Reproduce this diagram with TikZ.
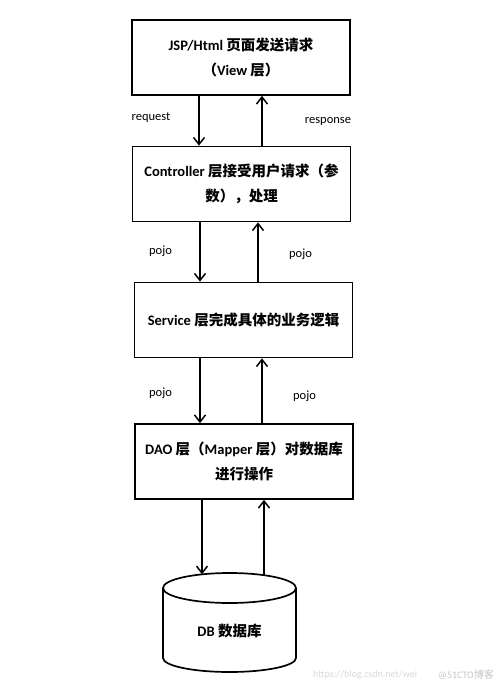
\documentclass[tikz,border=0pt]{standalone}
\usepackage{fontspec}
\setmainfont{Carlito}
\newfontfamily\cjk{Noto Sans CJK SC}
\newcommand\zhs[1]{{\cjk #1}}
\usetikzlibrary{arrows.meta}
\begin{document}
\begin{tikzpicture}[x=1pt,y=-1pt,
  layerbox/.style={draw, line width=1.7pt, minimum width=218pt, minimum height=75pt,
    inner sep=0pt, align=center, font=\fontsize{14.5}{25}\selectfont\bfseries},
  flow/.style={line width=1.5pt, -{Straight Barb[length=7pt,width=11pt]}},
  lbl/.style={font=\fontsize{12.5}{14}\selectfont, inner sep=0pt},
  wm/.style={font=\fontsize{10}{12}\selectfont, inner sep=0pt, text=gray!30}]
\useasboundingbox (0,0) rectangle (500,686);
\fill[white] (0,0) rectangle (500,686);

\node[layerbox] (b1) at (241,57.5) {JSP/Html \zhs{页面发送请求}\\\zhs{（}View \zhs{层）}};
\node[layerbox] (b2) at (241.5,184) {Controller \zhs{层接受用户请求（参}\\\zhs{数），处理}};
\node[layerbox] (b3) at (243.5,320) {Service \zhs{层完成具体的业务逻辑}};
\node[layerbox] (b4) at (244,461.5) {DAO \zhs{层（}Mapper \zhs{层）对数据库}\\\zhs{进行操作}};

% database cylinder
\draw[line width=1.7pt] (163,588) -- (163,658)
  arc[start angle=180, end angle=360, x radius=66.5pt, y radius=14pt] -- (296,588);
\draw[line width=1.7pt] (229.5,588) ellipse[x radius=66.5pt, y radius=15pt];
\node[font=\fontsize{14.5}{16}\selectfont\bfseries] (db) at (229.5,631) {DB \zhs{数据库}};
\coordinate (dbin) at (202,574.3);
\coordinate (dbout) at (264,575.2);

% x positions of connectors
\coordinate (xa) at (199,0);
\coordinate (xb) at (262,0);
\coordinate (xc) at (200,0);
\coordinate (xd) at (258,0);
\coordinate (xe) at (200,0);
\coordinate (xf) at (262,0);
\coordinate (xg) at (202,0);
\coordinate (xh) at (264,0);

\draw[flow] (b1.south -| xa) -- (b2.north -| xa);
\draw[flow] (b2.north -| xb) -- (b1.south -| xb);
\draw[flow] (b2.south -| xc) -- (b3.north -| xc);
\draw[flow] (b3.north -| xd) -- (b2.south -| xd);
\draw[flow] (b3.south -| xe) -- (b4.north -| xe);
\draw[flow] (b4.north -| xf) -- (b3.south -| xf);
\draw[flow] (b4.south -| xg) -- (dbin);
\draw[flow] (dbout) -- (b4.south -| xh);

\node[lbl] (l1) at (151,118) {request};
\node[lbl] (l2) at (328,121) {response};
\node[lbl] (l3) at (160.5,251) {pojo};
\node[lbl] (l4) at (300.5,254) {pojo};
\node[lbl] (l5) at (160.5,393) {pojo};
\node[lbl] (l6) at (304.5,396) {pojo};

\node[wm, anchor=west] (w1) at (313,675) {https://blog.csdn.net/wei};
\node[wm, anchor=east, text=gray!45] (w2) at (494,675) {@51CTO\zhs{博客}};
\end{tikzpicture}
\end{document}
